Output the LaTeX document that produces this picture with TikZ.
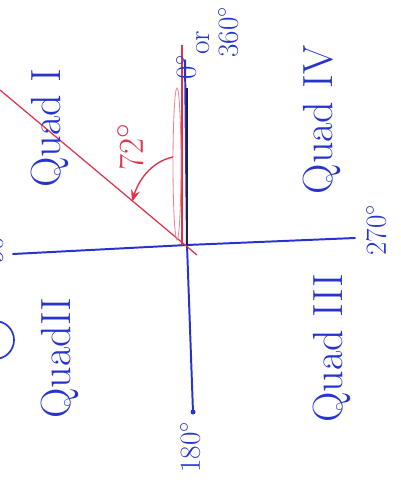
\documentclass[tikz,border=0pt]{standalone}
\usepackage{xcolor}
\usepackage{tikz}
\usetikzlibrary{arrows.meta,calc}
\definecolor{penblue}{RGB}{38,52,205}
\definecolor{penred}{RGB}{222,52,78}
\definecolor{pendark}{RGB}{30,30,70}

\begin{document}
\begin{tikzpicture}[x=0.025cm, y=0.025cm,
quad/.style={color=penblue, rotate=90, font=\fontsize{30}{34}\selectfont, inner sep=0pt},
deg/.style={color=penblue, rotate=90, font=\fontsize{21}{23}\selectfont, inner sep=0pt},
ang/.style={color=penred, rotate=90, font=\fontsize{32}{34}\selectfont, inner sep=0pt},
axis/.style={draw=penblue, line width=1.4pt, line cap=round},
ray/.style={draw=penred, line width=0.9pt},
arrow/.style={-{Stealth[length=3mm]}, draw=penred, line width=1pt}
]
\useasboundingbox (0,0) rectangle (401,487);

% axes
\coordinate (o) at (187,242);
\coordinate (top) at (185,427);
\coordinate (bot) at (193,75);
\coordinate (left) at (13,233);
\coordinate (right) at (355,249);
\draw[axis] (o) -- (top);
\draw[axis] (o) -- (bot);
\draw[axis] (o) -- (left);
\draw[axis] (o) -- (right);
\fill[penblue] (bot) circle (2.5);
\draw[draw=pendark, line width=1.6pt] (187,399) -- (o);

% terminal side and initial side
\coordinate (rs) at (0,397);
\coordinate (re) at (197,232);
\draw[ray] (rs) -- (re);
\draw[ray] (182,442) -- (182,242);
\draw[draw=penred!60, line width=0.6pt] (177,323) ellipse (4 and 76);

% angle arrow
\coordinate (a1) at (173,330);
\coordinate (a2) at (132,285);
\draw[arrow] (a1) .. controls (150,325) and (138,305) .. (a2);
\node[ang] (angl) at (130,340) {$72^\circ$};

% quadrant labels
\node[quad] (q1) at (50,359) {Quad I};
\node[quad] (q2) at (60,129) {QuadII};
\node[quad] (q3) at (332,139) {Quad III};
\node[quad] (q4) at (322,367) {Quad IV};

% angle marks on axes
\node[deg] (d0) at (186,420) {$0^\circ$};
\node[deg] (dor) at (203,444) {or};
\node[deg] (d360) at (228,455) {$360^\circ$};
\node[deg] (d270) at (376,257) {$270^\circ$};
\node[deg] (d180) at (190,40) {$180^\circ$};
\node[deg] (d90) at (-7,242) {$90^\circ$};
\draw[draw=penblue, line width=1.2pt] (-5,147) circle (19);
\end{tikzpicture}
\end{document}
